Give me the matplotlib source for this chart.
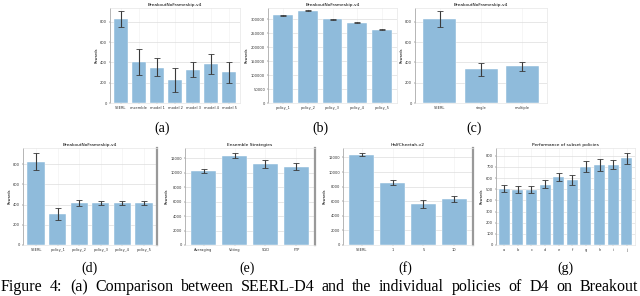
import numpy as np
import matplotlib
matplotlib.use('Agg')
import matplotlib.pyplot as plt

# (a) SEERL vs individual models
a_labels = ['SEERL', 'ensemble', 'model 1', 'model 2', 'model 3', 'model 4', 'model 5']
a_mean = [823, 400, 347, 223, 325, 384, 305]
a_low = [744, 272, 262, 105, 252, 285, 193]
a_high = [908, 531, 446, 344, 407, 479, 407]

# (b) policies
b_labels = ['policy_1', 'policy_2', 'policy_3', 'policy_4', 'policy_5']
b_mean = [314000, 330000, 299000, 288000, 263000]
b_low = [312500, 328000, 297500, 287000, 262000]
b_high = [315500, 332000, 300500, 289000, 264000]

# (c) single vs multiple
c_labels = ['SEERL', 'single', 'multiple']
c_mean = [823, 331, 361]
c_low = [744, 269, 318]
c_high = [908, 397, 407]

# (d)
d_labels = ['SEERL', 'policy_1', 'policy_2', 'policy_3', 'policy_4', 'policy_5']
d_mean = [820, 308, 416, 413, 420, 413]
d_low = [741, 243, 384, 393, 400, 393]
d_high = [908, 367, 446, 433, 439, 433]

# (e) ensemble strategies
e_labels = ['Averaging', 'Voting', 'SGD', 'FTP']
e_mean = [10250, 12360, 11210, 10750]
e_low = [9980, 11990, 10620, 10340]
e_high = [10480, 12680, 11810, 11260]

# (f) HalfCheetah
f_labels = ['SEERL', '1', '5', '10']
f_mean = [12360, 8500, 5640, 6320]
f_low = [12140, 8230, 5090, 5860]
f_high = [12590, 8950, 6230, 6680]

# (g) subset policies
g_labels = ['a', 'b', 'c', 'd', 'e', 'f', 'g', 'h', 'i', 'j']
g_mean = [506, 497, 497, 542, 607, 586, 702, 714, 714, 780]
g_low = [476, 467, 467, 512, 571, 542, 655, 667, 685, 726]
g_high = [542, 527, 527, 586, 646, 625, 756, 768, 762, 824]

caption = 'Figure 4:  (a) Comparison between SEERL-D4 and the individual policies of D4 on Breakout'

W, H = 640, 296
fig = plt.figure(figsize=(W / 100, H / 100), dpi=100)

bar_col = '#8fbbdb'
err_col = '#3a3a3a'


def px_axes(l, t, r, b):
    return fig.add_axes([l / W, 1 - b / H, (r - l) / W, (b - t) / H])


def panel(box, title, labels, mean, low, high, ylim, step, right_bar=False):
    ax = px_axes(*box)
    x = np.arange(len(labels))
    m = np.array(mean)
    yerr = [m - np.array(low), np.array(high) - m]
    ax.bar(x, m, width=0.8, color=bar_col, edgecolor='white', linewidth=0.3, zorder=2)
    ax.errorbar(x, m, yerr=yerr, fmt='none', ecolor=err_col, elinewidth=0.8,
                capsize=2, capthick=0.6, zorder=3)
    ax.set_ylim(0, ylim)
    ax.set_xlim(-0.6, len(labels) - 0.4)
    ax.set_yticks(np.arange(0, ylim, step))
    ax.set_xticks(x)
    ax.set_xticklabels(labels)
    ax.tick_params(labelsize=2.6, length=1, width=0.3, pad=1, colors='#333333')
    ax.set_title(title, fontsize=3.2, pad=1.5)
    ax.set_ylabel('Rewards', fontsize=2.6, labelpad=1.5)
    ax.grid(axis='y', color='#dddddd', linewidth=0.5, zorder=0)
    ax.grid(axis='x', color='#f0f0f0', linewidth=0.4, zorder=0)
    ax.set_axisbelow(True)
    for s in ax.spines.values():
        s.set_color('#e6e6e6')
        s.set_linewidth(0.5)
    ax.spines['left'].set_color('#999999')
    if right_bar:
        ax.spines['right'].set_color('#999999')
        ax.spines['right'].set_linewidth(1.6)
    return ax


panel((110, 8, 240, 103), 'BreakoutNoFrameskip-v4', a_labels, a_mean, a_low, a_high, 935, 200)
panel((268, 8, 397, 103), 'BreakoutNoFrameskip-v4', b_labels, b_mean, b_low, b_high, 340000, 50000)
panel((415, 8, 547, 103), 'BreakoutNoFrameskip-v4', c_labels, c_mean, c_low, c_high, 935, 200)
panel((23, 148, 157, 245), 'BreakoutNoFrameskip-v4', d_labels, d_mean, d_low, d_high, 960, 200, True)
panel((185, 148, 315, 245), 'Ensemble Strategies', e_labels, e_mean, e_low, e_high, 13400, 2000, True)
panel((343, 148, 473, 245), 'HalfCheetah-v2', f_labels, f_mean, f_low, f_high, 13300, 2000, True)
panel((496, 148, 635, 245), 'Performance of subset policies', g_labels, g_mean, g_low, g_high, 870, 100)

serif = ['Liberation Serif', 'DejaVu Serif']
subcaps = [('(a)', 162, 128), ('(b)', 320, 128), ('(c)', 474, 128),
           ('(d)', 90, 268), ('(e)', 247, 268), ('(f)', 405, 268), ('(g)', 565, 268)]
for txt, xp, yp in subcaps:
    fig.text(xp / W, 1 - yp / H, txt, ha='center', va='center', fontsize=10, family=serif)

# justified caption line: spread the words from left edge to right edge
words = caption.split()
renderer = fig.canvas.get_renderer()
objs = [fig.text(0, 1 - 287 / H, w, ha='left', va='center', fontsize=11.5, family=serif)
        for w in words]
widths = [o.get_window_extent(renderer).width for o in objs]
x0, x1 = 1, 638
gap = (x1 - x0 - sum(widths)) / (len(words) - 1)
xp = x0
for o, wd in zip(objs, widths):
    o.set_x(xp / W)
    xp += wd + gap

fig.savefig('out.png', dpi=100, facecolor='white')
